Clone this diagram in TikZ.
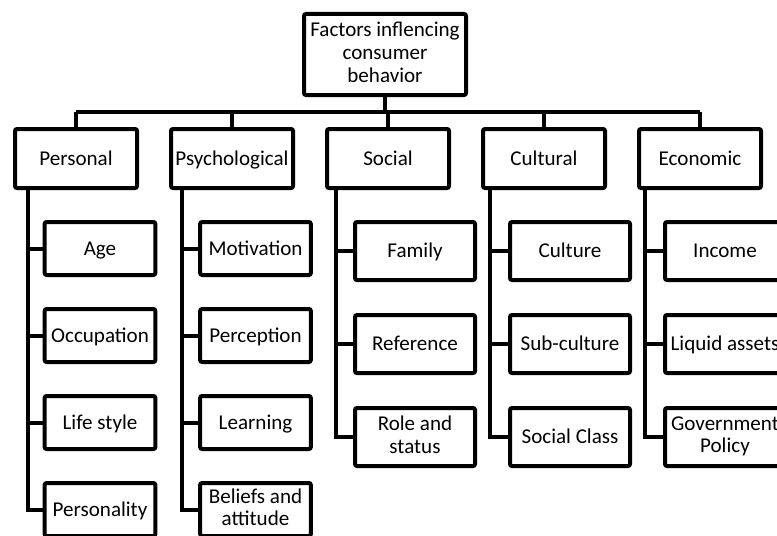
\documentclass[tikz,border=0pt]{standalone}
\usepackage{fontspec}
\setmainfont{Carlito}
\newcommand\boxstrut{\rule[-3.5pt]{0pt}{17pt}}
\begin{document}
\begin{tikzpicture}[x=0.75pt,y=-0.75pt,line width=3pt,line join=miter,
        font=\fontsize{15.8}{17}\selectfont]
        \tikzset{box/.style={draw,rounded corners=1.5pt,inner sep=0pt,align=center,
                execute at begin node={\boxstrut},execute at end node={\boxstrut}},
            cat/.style={box,minimum width=91.5pt,minimum height=44.25pt},
            small/.style={box,minimum width=83pt,minimum height=39.75pt},
            big/.style={box,minimum width=90pt,minimum height=43.5pt}
        }
        \useasboundingbox (0,0) rectangle (777,535);
        \clip (0,0) rectangle (777,535);
        \node[box,minimum width=121.5pt,minimum height=60.75pt] (top) at (385,54.5)
            {Factors inflencing\\consumer\\behavior};
        \coordinate (bar) at (0,112);
        % first level
        \node[cat] (pers) at (76,158.5) {Personal};
        \node[cat] (psy) at (232,158.5) {Psychological};
        \node[cat] (soc) at (388,158.5) {Social};
        \node[cat] (cul) at (544,158.5) {Cultural};
        \node[cat] (eco) at (700,158.5) {Economic};
        % second level
        \node[small] (pers-1) at (100,248.5) {Age};
        \node[small] (pers-2) at (100,335.5) {Occupation};
        \node[small] (pers-3) at (100,422.5) {Life style};
        \node[small] (pers-4) at (100,509.5) {Personality};
        \node[small] (psy-1) at (255.5,248.5) {Motivation};
        \node[small] (psy-2) at (255.5,335.5) {Perception};
        \node[small] (psy-3) at (255.5,422.5) {Learning};
        \node[small] (psy-4) at (255.5,509.5) {Beliefs and\\attitude};
        \node[big] (soc-1) at (415,251) {Family};
        \node[big] (soc-2) at (415,344) {Reference};
        \node[big] (soc-3) at (415,437) {Role and\\status};
        \node[big] (cul-1) at (570,251) {Culture};
        \node[big] (cul-2) at (570,344) {Sub-culture};
        \node[big] (cul-3) at (570,437) {Social Class};
        \node[big] (eco-1) at (725,251) {Income};
        \node[big] (eco-2) at (725,344) {Liquid assets};
        \node[big] (eco-3) at (725,437) {Government\\Policy};
        % connectors
        \draw (top.south) -- (top.south |- bar);
        \draw (pers.north |- bar) -- (eco.north |- bar);
        \foreach \g in {pers,psy,soc,cul,eco}
            \draw (\g.north) -- (\g.north |- bar);
        \foreach \g/\n/\tx in {pers/4/27.5,psy/4/182,soc/3/336,cul/3/490,eco/3/645}{
            \coordinate (\g-t) at (\tx,0);
            \draw (\g-t |- \g.south) |- (\g-\n.west);
            \foreach \i in {1,...,\n}
                \draw (\g-t |- \g-\i.west) -- (\g-\i.west);
        }
\end{tikzpicture}
\end{document}
